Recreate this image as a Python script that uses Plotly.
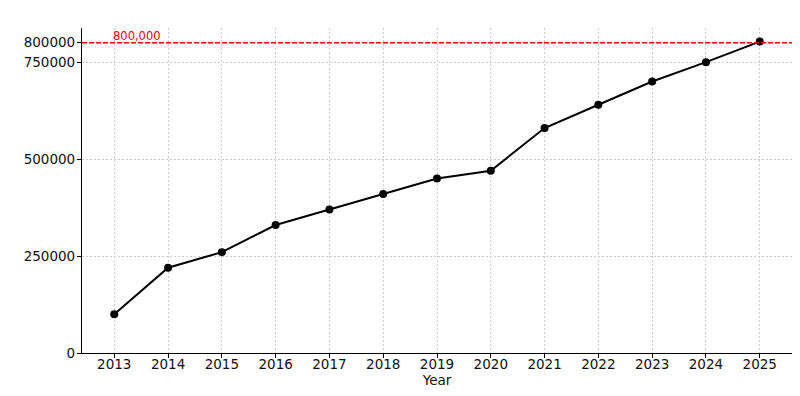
import plotly.graph_objects as go

years = [2013, 2014, 2015, 2016, 2017, 2018, 2019, 2020, 2021, 2022, 2023, 2024, 2025]
values = [100000, 220000, 260000, 330000, 370000, 410000, 450000, 470000, 580000, 640000, 700000, 750000, 803000]
y_ticks = [0, 250000, 500000, 750000, 800000]
target = 800000
target_label = "800,000"

fig = go.Figure()
fig.add_trace(go.Scatter(
    x=years, y=values, mode="lines+markers",
    line=dict(color="black", width=2),
    marker=dict(color="black", size=8),
    showlegend=False,
))
fig.add_shape(type="line", xref="paper", x0=0, x1=1, yref="y", y0=target, y1=target,
              line=dict(color="red", width=1.3, dash="5px,2px"))
fig.add_annotation(x=years[0], y=target, text=target_label, showarrow=False,
                   xanchor="left", yanchor="bottom", yshift=-2, xshift=-3,
                   font=dict(color="red", size=11.5, family="DejaVu Sans"))

fig.update_layout(
    width=800, height=396,
    margin=dict(l=82, r=8, t=28, b=43),
    plot_bgcolor="white", paper_bgcolor="white",
    font=dict(family="DejaVu Sans", size=13.5, color="#111"),
)
fig.update_xaxes(
    range=[2012.4, 2025.6], tickvals=years, ticktext=[str(y) for y in years],
    showline=True, linecolor="black", linewidth=1.2,
    ticks="outside", ticklen=4, tickcolor="black", ticklabelstandoff=-5,
    showgrid=True, gridcolor="#cccccc", griddash="2px,2px", gridwidth=1,
    zeroline=False, automargin=False,
    title=dict(text="Year", standoff=0, font=dict(size=13.5)),
)
fig.update_yaxes(
    range=[0, 838000], tickvals=y_ticks, ticktext=[str(v) for v in y_ticks],
    showline=True, linecolor="black", linewidth=1.2,
    ticks="outside", ticklen=4, tickcolor="black", ticklabelstandoff=-1,
    showgrid=True, gridcolor="#cccccc", griddash="2px,2px", gridwidth=1,
    zeroline=False, automargin=False,
)
fig.write_html("out.html", config={"displayModeBar": False},
               post_script="document.body.style.margin='0';document.body.style.overflow='hidden';")
